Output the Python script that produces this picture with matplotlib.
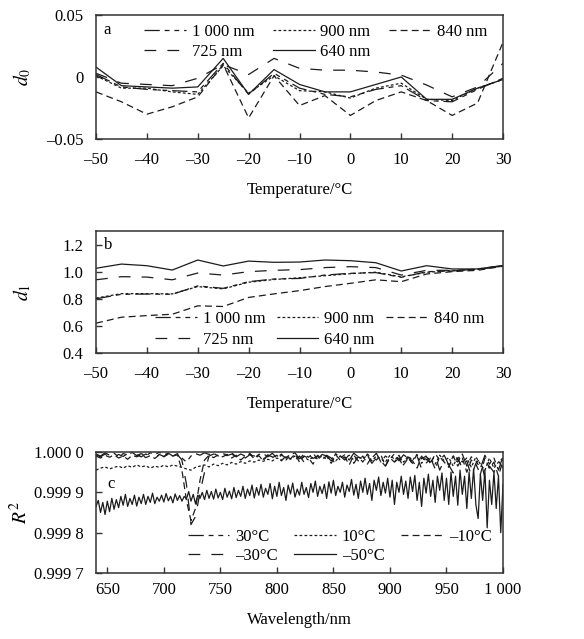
import numpy as np
import matplotlib
matplotlib.use("Agg")
import matplotlib.pyplot as plt

plt.rcParams['font.family'] = ['Liberation Serif', 'DejaVu Serif']
plt.rcParams['mathtext.fontset'] = 'stix'
plt.rcParams['lines.scale_dashes'] = False

# ---------------- data ----------------
temps = [-50, -45, -40, -35, -30, -25, -20, -15, -10, -5, 0, 5, 10, 15, 20, 25, 30]

d0_1000 = [0.002, -0.008, -0.010, -0.011, -0.012, 0.011, -0.014, 0.003, -0.009, -0.014, -0.016, -0.010, -0.007, -0.019, -0.020, -0.010, -0.001]
d0_900 = [0.001, -0.009, -0.009, -0.012, -0.014, 0.009, -0.013, 0.001, -0.011, -0.012, -0.017, -0.009, -0.005, -0.018, -0.019, -0.009, -0.002]
d0_840 = [-0.012, -0.020, -0.030, -0.024, -0.016, 0.010, -0.033, 0.001, -0.023, -0.015, -0.031, -0.019, -0.012, -0.019, -0.031, -0.021, 0.028]
d0_725 = [0.003, -0.005, -0.006, -0.007, -0.001, 0.010, 0.002, 0.015, 0.007, 0.0055, 0.0055, 0.004, 0.0015, -0.0065, -0.016, -0.008, 0.011]
d0_640 = [0.008, -0.007, -0.008, -0.009, -0.008, 0.015, -0.014, 0.006, -0.006, -0.012, -0.012, -0.006, 0.000, -0.018, -0.018, -0.009, -0.002]

d1_1000 = [0.800, 0.833, 0.835, 0.833, 0.895, 0.877, 0.926, 0.946, 0.950, 0.975, 0.988, 0.993, 0.958, 1.000, 1.005, 1.020, 1.045]
d1_900 = [0.805, 0.838, 0.838, 0.836, 0.890, 0.873, 0.922, 0.942, 0.955, 0.970, 0.985, 0.996, 0.962, 0.995, 1.008, 1.018, 1.040]
d1_840 = [0.620, 0.664, 0.676, 0.686, 0.748, 0.743, 0.810, 0.836, 0.860, 0.890, 0.914, 0.940, 0.926, 0.983, 1.000, 1.010, 1.040]
d1_725 = [0.940, 0.963, 0.960, 0.940, 0.990, 0.975, 1.000, 1.010, 1.015, 1.030, 1.037, 1.030, 0.975, 1.010, 1.010, 1.015, 1.045]
d1_640 = [1.025, 1.056, 1.044, 1.012, 1.086, 1.042, 1.078, 1.069, 1.071, 1.086, 1.081, 1.066, 1.005, 1.044, 1.020, 1.020, 1.045]

series_nm = ['1 000 nm', '900 nm', '840 nm', '725 nm', '640 nm']

wl_fine = np.arange(640, 1001, 2)
wl_coarse = np.arange(640, 1001, 4)

r2_m50 = [
    0.999865, 0.999880, 0.999850, 0.999875, 0.999845, 0.999878, 0.999852, 0.999885, 0.999858, 0.999882,
    0.999862, 0.999890, 0.999868, 0.999895, 0.999865, 0.999885, 0.999870, 0.999893, 0.999866, 0.999888,
    0.999872, 0.999895, 0.999870, 0.999890, 0.999875, 0.999898, 0.999872, 0.999888, 0.999878, 0.999893,
    0.999876, 0.999897, 0.999879, 0.999890, 0.999874, 0.999896, 0.999880, 0.999892, 0.999878, 0.999890,
    0.999884, 0.999902, 0.999878, 0.999895, 0.999872, 0.999893, 0.999885, 0.999900, 0.999882, 0.999905,
    0.999885, 0.999902, 0.999883, 0.999908, 0.999886, 0.999900, 0.999882, 0.999910, 0.999888, 0.999903,
    0.999884, 0.999912, 0.999887, 0.999905, 0.999890, 0.999915, 0.999885, 0.999908, 0.999892, 0.999918,
    0.999886, 0.999912, 0.999893, 0.999920, 0.999888, 0.999910, 0.999895, 0.999922, 0.999884, 0.999915,
    0.999890, 0.999925, 0.999892, 0.999912, 0.999880, 0.999918, 0.999896, 0.999923, 0.999888, 0.999908,
    0.999893, 0.999925, 0.999895, 0.999912, 0.999887, 0.999922, 0.999900, 0.999928, 0.999890, 0.999915,
    0.999897, 0.999920, 0.999885, 0.999926, 0.999898, 0.999930, 0.999892, 0.999915, 0.999900, 0.999925,
    0.999888, 0.999918, 0.999902, 0.999932, 0.999893, 0.999920, 0.999885, 0.999928, 0.999900, 0.999935,
    0.999895, 0.999922, 0.999880, 0.999930, 0.999905, 0.999938, 0.999892, 0.999925, 0.999898, 0.999935,
    0.999888, 0.999930, 0.999870, 0.999925, 0.999900, 0.999940, 0.999895, 0.999928, 0.999885, 0.999938,
    0.999902, 0.999942, 0.999880, 0.999925, 0.999865, 0.999935, 0.999898, 0.999945, 0.999890, 0.999930,
    0.999875, 0.999940, 0.999905, 0.999948, 0.999880, 0.999935, 0.999870, 0.999950, 0.999890, 0.999940,
    0.999868, 0.999955, 0.999895, 0.999940, 0.999860, 0.999950, 0.999885, 0.999958, 0.999870, 0.999835,
    0.999945, 0.999880, 0.999955, 0.999812, 0.999930, 0.999870, 0.999950, 0.999860, 0.999940, 0.999800,
    0.999920]

r2_30 = [
    0.999995, 0.999990, 0.999998, 0.999992, 0.999997, 0.999988, 0.999996, 0.999993, 0.999999, 0.999991,
    0.999996, 0.999990, 0.999998, 0.999994, 0.999999, 0.999993, 0.999997, 0.999990, 0.999996, 0.999985,
    0.999975, 0.999990, 0.999996, 0.999992, 0.999998, 0.999994, 0.999997, 0.999990, 0.999996, 0.999993,
    0.999998, 0.999988, 0.999995, 0.999990, 0.999997, 0.999985, 0.999994, 0.999996, 0.999988, 0.999997,
    0.999985, 0.999995, 0.999980, 0.999993, 0.999998, 0.999983, 0.999995, 0.999987, 0.999997, 0.999982,
    0.999994, 0.999990, 0.999978, 0.999996, 0.999985, 0.999993, 0.999980, 0.999997, 0.999988, 0.999975,
    0.999995, 0.999985, 0.999997, 0.999975, 0.999990, 0.999982, 0.999996, 0.999978, 0.999993, 0.999985,
    0.999972, 0.999995, 0.999983, 0.999990, 0.999970, 0.999996, 0.999980, 0.999992, 0.999968, 0.999990,
    0.999975, 0.999995, 0.999965, 0.999988, 0.999978, 0.999960, 0.999992, 0.999970, 0.999985, 0.999955,
    0.999990]

r2_10 = [
    0.999955, 0.999960, 0.999963, 0.999958, 0.999962, 0.999965, 0.999960, 0.999966, 0.999962, 0.999968,
    0.999963, 0.999966, 0.999960, 0.999965, 0.999962, 0.999967, 0.999963, 0.999968, 0.999965, 0.999962,
    0.999958, 0.999955, 0.999962, 0.999965, 0.999968, 0.999963, 0.999970, 0.999966, 0.999972, 0.999968,
    0.999974, 0.999970, 0.999976, 0.999972, 0.999978, 0.999975, 0.999980, 0.999977, 0.999982, 0.999978,
    0.999985, 0.999980, 0.999988, 0.999982, 0.999990, 0.999984, 0.999988, 0.999980, 0.999987, 0.999983,
    0.999990, 0.999982, 0.999988, 0.999978, 0.999990, 0.999985, 0.999992, 0.999980, 0.999988, 0.999983,
    0.999992, 0.999978, 0.999990, 0.999983, 0.999975, 0.999992, 0.999982, 0.999988, 0.999975, 0.999990,
    0.999980, 0.999993, 0.999972, 0.999988, 0.999980, 0.999970, 0.999992, 0.999978, 0.999986, 0.999965,
    0.999990, 0.999975, 0.999985, 0.999962, 0.999988, 0.999970, 0.999955, 0.999985, 0.999960, 0.999975,
    0.999985]

r2_m10 = [
    0.999990, 0.999985, 0.999992, 0.999987, 0.999993, 0.999985, 0.999990, 0.999982, 0.999992, 0.999988,
    0.999994, 0.999986, 0.999991, 0.999984, 0.999993, 0.999988, 0.999995, 0.999990, 0.999993, 0.999955,
    0.999880, 0.999830, 0.999860, 0.999930, 0.999980, 0.999992, 0.999986, 0.999993, 0.999988, 0.999994,
    0.999985, 0.999992, 0.999980, 0.999990, 0.999995, 0.999983, 0.999991, 0.999978, 0.999993, 0.999986,
    0.999992, 0.999978, 0.999990, 0.999983, 0.999995, 0.999975, 0.999990, 0.999985, 0.999970, 0.999992,
    0.999982, 0.999990, 0.999972, 0.999993, 0.999980, 0.999988, 0.999968, 0.999992, 0.999978, 0.999990,
    0.999970, 0.999988, 0.999980, 0.999993, 0.999965, 0.999985, 0.999975, 0.999992, 0.999968, 0.999985,
    0.999978, 0.999960, 0.999990, 0.999972, 0.999985, 0.999958, 0.999988, 0.999975, 0.999962, 0.999990,
    0.999965, 0.999985, 0.999950, 0.999980, 0.999970, 0.999945, 0.999985, 0.999960, 0.999975, 0.999940,
    0.999980]

r2_m30 = [
    0.999993, 0.999988, 0.999995, 0.999990, 0.999986, 0.999994, 0.999989, 0.999996, 0.999990, 0.999993,
    0.999988, 0.999995, 0.999990, 0.999986, 0.999994, 0.999989, 0.999996, 0.999991, 0.999994, 0.999980,
    0.999920, 0.999820, 0.999840, 0.999900, 0.999950, 0.999990, 0.999995, 0.999990, 0.999996, 0.999991,
    0.999995, 0.999988, 0.999994, 0.999985, 0.999993, 0.999990, 0.999996, 0.999982, 0.999992, 0.999988,
    0.999978, 0.999993, 0.999985, 0.999995, 0.999980, 0.999990, 0.999975, 0.999993, 0.999984, 0.999990,
    0.999975, 0.999992, 0.999985, 0.999970, 0.999990, 0.999980, 0.999994, 0.999972, 0.999988, 0.999980,
    0.999992, 0.999972, 0.999986, 0.999978, 0.999965, 0.999990, 0.999975, 0.999985, 0.999962, 0.999988,
    0.999970, 0.999990, 0.999958, 0.999982, 0.999975, 0.999992, 0.999955, 0.999980, 0.999968, 0.999948,
    0.999985, 0.999960, 0.999978, 0.999940, 0.999972, 0.999985, 0.999935, 0.999965, 0.999950, 0.999978,
    0.999960]

series_temp = ['30°C', '10°C', '–10°C', '–30°C', '–50°C']

temp_ticks = [-50, -40, -30, -20, -10, 0, 10, 20, 30]
temp_ticklabels = ['–50', '–40', '–30', '–20', '–10', '0', '10', '20', '30']
d0_ticks = [-0.05, 0, 0.05]
d0_ticklabels = ['–0.05', '0', '0.05']
d1_ticks = [0.4, 0.6, 0.8, 1.0, 1.2]
d1_ticklabels = ['0.4', '0.6', '0.8', '1.0', '1.2']
wl_ticks = [650, 700, 750, 800, 850, 900, 950, 1000]
wl_ticklabels = ['650', '700', '750', '800', '850', '900', '950', '1 000']
r2_ticks = [0.9997, 0.9998, 0.9999, 1.0]
r2_ticklabels = ['0.999 7', '0.999 8', '0.999 9', '1.000 0']

# ---------------- styles ----------------
styles = [
    (0, (11, 3.5, 3.5, 3.5, 3.5, 3.5)),
    (0, (2, 1.6)),
    (0, (5, 3)),
    (0, (8.5, 8)),
    '-',
]
LC = '#1c1c1c'
LW = 0.9
FS = 12

W, H = 584, 639
fig = plt.figure(figsize=(W / 100, H / 100), dpi=100)

def axrect(l, t, r, b):
    return [l / W, 1 - b / H, (r - l) / W, (b - t) / H]

ax_a = fig.add_axes(axrect(96, 15, 503, 139))
ax_b = fig.add_axes(axrect(96, 231, 503, 353))
ax_c = fig.add_axes(axrect(96, 452, 503, 573))

def style_axes(ax, xpad=9.5):
    for s in ax.spines.values():
        s.set_linewidth(1.1)
        s.set_color('#333333')
    ax.tick_params(axis='both', direction='in', length=4, width=1.0, color='#333333',
                   labelsize=FS, top=False, right=False)
    ax.tick_params(axis='x', pad=xpad)
    ax.tick_params(axis='y', pad=9)

def legend(ax, x, y, spacing, colsp):
    h, l = ax.get_legend_handles_labels()
    # row-major order (3 per row) -> matplotlib column-major order
    order = [0, 3, 1, 4, 2]
    lg = ax.legend([h[i] for i in order], [l[i] for i in order],
                   ncol=3, loc='upper left', bbox_to_anchor=(x, y), frameon=False,
                   fontsize=FS, handlelength=2.5, handletextpad=0.35, columnspacing=colsp,
                   labelspacing=spacing, borderpad=0, borderaxespad=0)
    return lg

# panel a
for vals, ls, lab in zip([d0_1000, d0_900, d0_840, d0_725, d0_640], styles, series_nm):
    ax_a.plot(temps, vals, color=LC, lw=LW, linestyle=ls, label=lab)
ax_a.set_xlim(-50, 30)
ax_a.set_ylim(-0.05, 0.05)
ax_a.set_xticks(temp_ticks)
ax_a.set_xticklabels(temp_ticklabels)
ax_a.set_yticks(d0_ticks)
ax_a.set_yticklabels(d0_ticklabels)
style_axes(ax_a)
ax_a.set_xlabel('Temperature/°C', fontsize=FS, labelpad=10)
ax_a.set_ylabel('$d_0$', fontsize=14)
ax_a.yaxis.set_label_coords(-0.155, 0.5)
ax_a.text(0.018, 0.879, 'a', transform=ax_a.transAxes, fontsize=FS, va='center', ha='left')
legend(ax_a, 0.119, 0.93, 0.23, 1.1)

# panel b
for vals, ls, lab in zip([d1_1000, d1_900, d1_840, d1_725, d1_640], styles, series_nm):
    ax_b.plot(temps, vals, color=LC, lw=LW, linestyle=ls, label=lab)
ax_b.set_xlim(-50, 30)
ax_b.set_ylim(0.4, 1.3)
ax_b.set_xticks(temp_ticks)
ax_b.set_xticklabels(temp_ticklabels)
ax_b.set_yticks(d1_ticks)
ax_b.set_yticklabels(d1_ticklabels)
style_axes(ax_b)
ax_b.set_xlabel('Temperature/°C', fontsize=FS, labelpad=10)
ax_b.set_ylabel('$d_1$', fontsize=14)
ax_b.yaxis.set_label_coords(-0.155, 0.5)
ax_b.text(0.02, 0.885, 'b', transform=ax_b.transAxes, fontsize=FS, va='center', ha='left')
legend(ax_b, 0.145, 0.345, 0.30, 0.7)

# panel c
ax_c.plot(wl_coarse, r2_30, color=LC, lw=LW, linestyle=styles[0], label=series_temp[0])
ax_c.plot(wl_coarse, r2_10, color=LC, lw=LW, linestyle=styles[1], label=series_temp[1])
ax_c.plot(wl_coarse, r2_m10, color=LC, lw=LW, linestyle=styles[2], label=series_temp[2])
ax_c.plot(wl_coarse, r2_m30, color=LC, lw=LW, linestyle=styles[3], label=series_temp[3])
ax_c.plot(wl_fine, r2_m50, color=LC, lw=LW, linestyle=styles[4], label=series_temp[4])
ax_c.set_xlim(640, 1000)
ax_c.set_ylim(0.9997, 1.0)
ax_c.set_xticks(wl_ticks)
ax_c.set_xticklabels(wl_ticklabels)
ax_c.set_yticks(r2_ticks)
ax_c.set_yticklabels(r2_ticklabels)
style_axes(ax_c, xpad=6.5)
ax_c.set_xlabel('Wavelength/nm', fontsize=FS, labelpad=10)
ax_c.set_ylabel('$R^2$', fontsize=14)
ax_c.yaxis.set_label_coords(-0.16, 0.5)
ax_c.text(0.027, 0.735, 'c', transform=ax_c.transAxes, fontsize=FS, va='center', ha='left')
legend(ax_c, 0.225, 0.365, 0.18, 1.0)

fig.savefig('out.png', dpi=100)
